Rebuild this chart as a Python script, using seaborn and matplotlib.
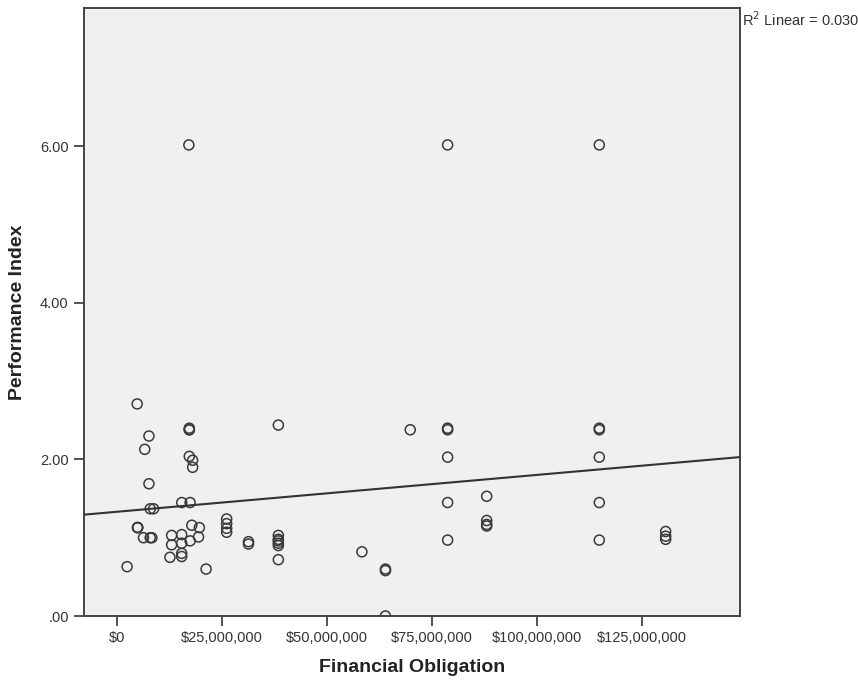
import numpy as np
import pandas as pd
import matplotlib
matplotlib.use('Agg')
import matplotlib.pyplot as plt
import matplotlib.ticker as mticker
import seaborn as sns

# Financial obligation (millions of $) and performance index
obligation_m = [
    2.4, 4.8, 4.9, 4.9, 4.9, 6.6, 7.6, 7.6, 7.9, 8.7,
    6.3, 7.9, 8.3, 13.0, 13.0, 12.6, 15.4, 15.4, 15.4, 15.4,
    15.4, 17.4, 17.2, 17.2, 17.2, 17.2, 18.0, 18.0, 17.8, 17.4,
    19.6, 19.4, 21.2, 26.1, 26.1, 26.1, 26.1, 31.3, 31.3, 38.4,
    38.4, 38.4, 38.4, 38.4, 38.4, 38.4, 58.3, 63.9, 63.9, 63.9,
    69.8, 78.7, 78.7, 78.7, 78.7, 78.7, 78.7, 88.0, 88.0, 88.0,
    88.0, 114.8, 114.8, 114.8, 114.8, 114.8, 114.8, 130.6, 130.6, 130.6,
    17.1,
]
performance = [
    0.63, 2.71, 1.13, 1.13, 1.13, 2.13, 2.30, 1.69, 1.37, 1.37,
    1.00, 1.00, 1.00, 1.03, 0.91, 0.75, 1.04, 0.93, 0.80, 0.76,
    1.45, 1.45, 2.38, 2.38, 2.40, 2.04, 1.99, 1.90, 1.16, 0.96,
    1.13, 1.01, 0.60, 1.24, 1.18, 1.12, 1.07, 0.95, 0.92, 2.44,
    1.03, 0.98, 0.96, 0.93, 0.90, 0.72, 0.82, 0.60, 0.58, 0.00,
    2.38, 6.02, 2.38, 2.40, 2.03, 1.45, 0.97, 1.53, 1.22, 1.17,
    1.15, 6.02, 2.38, 2.40, 2.03, 1.45, 0.97, 1.08, 1.02, 0.98,
    6.02,
]
x_ticks = [0, 25e6, 50e6, 75e6, 100e6, 125e6]
y_ticks = [0, 2, 4, 6]
y_tick_labels = ['.00', '2.00', '4.00', '6.00']
r2_label = 'R$^2$ Linear = 0.030'

df = pd.DataFrame({'Financial Obligation': np.array(obligation_m) * 1e6,
                   'Performance Index': performance})

plt.rcParams['font.family'] = ['Liberation Sans', 'DejaVu Sans']

fig = plt.figure(figsize=(8.58, 7), dpi=100)
ax = fig.add_axes([0.0979, 0.12, 0.7646, 0.8686])
ax.set_facecolor('#f0f0f0')

xlim = (-7.86e6, 148.3e6)
ylim = (0, 7.77)
ax.set_xlim(xlim)
ax.set_ylim(ylim)

sns.scatterplot(data=df, x='Financial Obligation', y='Performance Index', ax=ax,
                marker='o', s=52, facecolor='none', edgecolor='#3a3a3a',
                linewidth=1.1, zorder=3)
sns.regplot(data=df, x='Financial Obligation', y='Performance Index', ax=ax,
            scatter=False, ci=None, truncate=False, color='#333333',
            line_kws={'linewidth': 1.5, 'zorder': 4})
ax.set_xlim(xlim)
ax.set_ylim(ylim)

ax.set_xticks(x_ticks)
ax.xaxis.set_major_formatter(mticker.FuncFormatter(lambda v, p: '${:,.0f}'.format(v)))
ax.set_yticks(y_ticks)
ax.set_yticklabels(y_tick_labels)
ax.tick_params(axis='both', direction='out', length=7, width=1.3, color='#444444',
               labelsize=10.5, labelcolor='#333333', pad=4)

for s in ax.spines.values():
    s.set_color('#444444')
    s.set_linewidth(1.4)

ax.set_xlabel('Financial Obligation', fontsize=14, fontweight='bold', color='#222222', labelpad=10)
ax.set_ylabel('Performance Index', fontsize=14, fontweight='bold', color='#222222', labelpad=10)

fig.text(742 / 858, 1 - 20 / 700, r2_label, fontsize=10.5, color='#333333',
         ha='left', va='center')

fig.savefig('out.png', dpi=100)
